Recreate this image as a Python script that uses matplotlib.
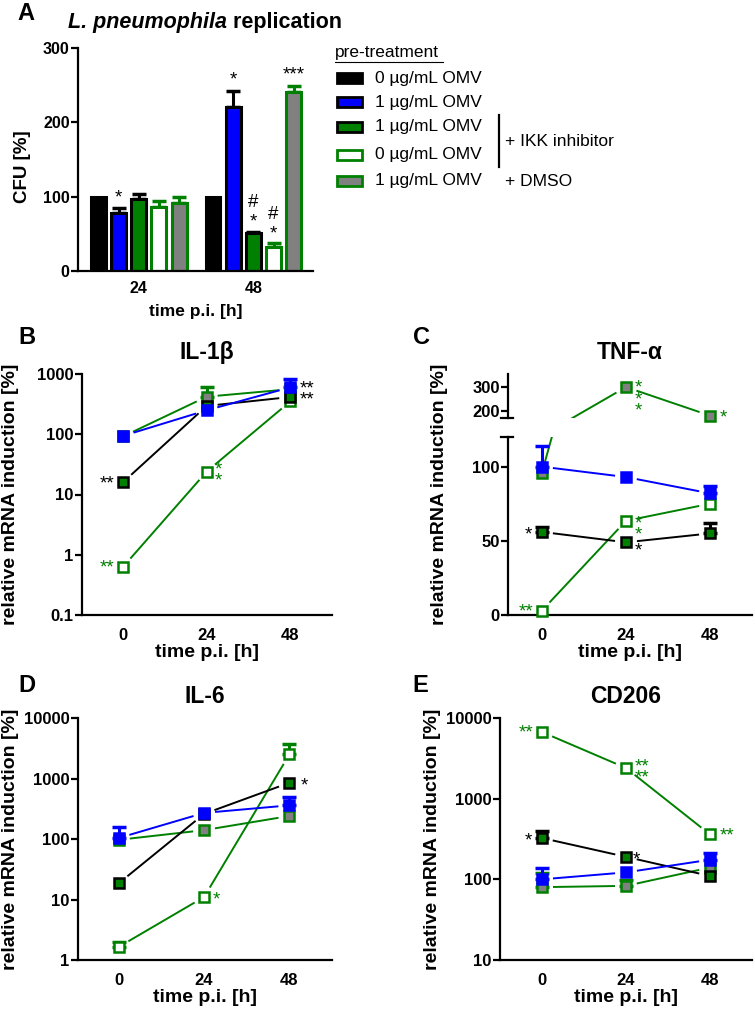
import numpy as np
import matplotlib
matplotlib.use("Agg")
import matplotlib.pyplot as plt
from matplotlib.patches import Rectangle
from matplotlib.lines import Line2D

plt.rcParams['font.family'] = ['Liberation Sans', 'DejaVu Sans']

# colours used by the figure
BLUE = '#0000ff'
GREEN = '#008000'
GRAY = '#808080'

# ---------------- data ----------------
# panel A: CFU [%] (bars), order: 0 OMV, 1 OMV, IKK+1 OMV, IKK+0 OMV, DMSO+1 OMV
groups_a = ['24', '48']
cfu_24 = [100, 78, 97, 86, 91]
cfu_24_err = [0, 7, 7, 8, 9]
cfu_48 = [100, 220, 51, 32, 241]
cfu_48_err = [0, 22, 2, 5, 8]

times = [0, 24, 48]

# panel B: IL-1b
il1b_blue = [94, 250, 600]
il1b_blue_err = [0, 0, 230]
il1b_ikk1 = [16, 295, 415]
il1b_ikk1_err = [0, 0, 0]
il1b_ikk0 = [0.63, 24, 350]
il1b_ikk0_err = [0, 0, 0]
il1b_dmso = [92, 420, 560]
il1b_dmso_err = [0, 180, 0]

# panel C: TNF-a
tnf_blue = [100, 93, 82]
tnf_blue_err = [14, 0, 5]
tnf_ikk1 = [56, 49, 55]
tnf_ikk1_err = [3, 0, 7]
tnf_ikk0 = [3, 63.5, 75]
tnf_ikk0_err = [0, 0, 0]
tnf_dmso = [96, 300, 180]
tnf_dmso_err = [0, 0, 0]

# panel D: IL-6
il6_blue = [104, 270, 360]
il6_blue_err = [56, 0, 140]
il6_ikk1 = [18.6, 260, 850]
il6_ikk1_err = [0, 0, 0]
il6_ikk0 = [1.65, 11, 2500]
il6_ikk0_err = [0.3, 0, 1200]
il6_dmso = [97, 140, 240]
il6_dmso_err = [0, 0, 0]

# panel E: CD206
cd_blue = [100, 122, 175]
cd_blue_err = [40, 0, 35]
cd_ikk1 = [325, 190, 110]
cd_ikk1_err = [75, 0, 0]
cd_ikk0 = [6700, 2400, 360]
cd_ikk0_err = [0, 0, 0]
cd_dmso = [80, 83, 140]
cd_dmso_err = [40, 15, 0]

W, H = 755, 1013
fig = plt.figure(figsize=(W / 100, H / 100), dpi=100)

TICK_FS = 12
LABEL_FS = 14
TITLE_FS = 16.5
STAR_FS = 13.5
LEG_FS = 12.5


def box(l, t, r, b):
    return [l / W, 1 - b / H, (r - l) / W, (b - t) / H]


def fx(px):
    return px / W


def fy(py):
    return 1 - py / H


def style_axes(ax, fs=TICK_FS, xpad=9):
    for s in ['top', 'right']:
        ax.spines[s].set_visible(False)
    for s in ['left', 'bottom']:
        ax.spines[s].set_linewidth(1.6)
    ax.tick_params(axis='y', width=1.6, length=5, labelsize=fs, pad=1)
    ax.tick_params(axis='x', length=0, labelsize=fs, pad=xpad)
    for lab in ax.get_xticklabels() + ax.get_yticklabels():
        lab.set_fontweight('bold')
    ax.minorticks_off()


def gap_line(ax, x, y, color, gap=11):
    # Prism-like lines that stop short of the markers
    pts = ax.transData.transform(np.column_stack([x, y]))
    inv = ax.transData.inverted()
    for i in range(len(pts) - 1):
        p0, p1 = pts[i], pts[i + 1]
        d = p1 - p0
        n = np.hypot(*d)
        if n <= 2 * gap:
            continue
        u = d / n
        a = inv.transform(p0 + u * gap)
        b = inv.transform(p1 - u * gap)
        ax.plot([a[0], b[0]], [a[1], b[1]], color=color, lw=1.4,
                zorder=2, solid_capstyle='butt')


def series(ax, y, err, face, edge, lcolor, errcolor):
    gap_line(ax, times, y, lcolor)
    lo, hi = ax.get_ylim()
    for xi, yi, ei in zip(times, y, err):
        if not (lo <= yi <= hi):
            continue  # point belongs to another segment of a broken axis
        if ei > 0:
            ax.errorbar([xi], [yi], yerr=[[0], [ei]], fmt='none', ecolor=errcolor,
                        elinewidth=2.2, capsize=5, capthick=2.5, zorder=3, clip_on=False)
        ax.plot([xi], [yi], 's', ms=7, mfc=face, mec=edge, mew=1.8, ls='none',
                zorder=4, clip_on=False)


def draw_all(ax, blue, blue_e, ikk1, ikk1_e, ikk0, ikk0_e, dmso, dmso_e):
    series(ax, dmso, dmso_e, GRAY, GREEN, GREEN, GREEN)
    series(ax, ikk0, ikk0_e, 'white', GREEN, GREEN, GREEN)
    series(ax, ikk1, ikk1_e, GREEN, 'black', 'black', 'black')
    series(ax, blue, blue_e, BLUE, BLUE, BLUE, BLUE)


def stars(ax, x, y, s, color, ha='left', dx=0, dy=0):
    ax.annotate(s, (x, y), xytext=(dx, dy), textcoords='offset points', ha=ha,
                va='center', color=color, fontsize=STAR_FS, linespacing=0.55,
                annotation_clip=False)


def finish_line_axes(ax, title, letter, lx, ly, label_x, label_y=0.5):
    ax.set_xticks(times)
    ax.set_xticklabels([str(t) for t in times])
    ax.set_xlabel('time p.i. [h]', fontsize=LABEL_FS, fontweight='bold', labelpad=1)
    ax.set_ylabel('relative mRNA induction [%]', fontsize=LABEL_FS, fontweight='bold')
    ax.yaxis.set_label_coords(label_x, label_y)
    style_axes(ax)
    if title:
        ax.set_title(title, fontsize=TITLE_FS, fontweight='bold', pad=11)
    fig.text(fx(lx), fy(ly), letter, fontsize=17, fontweight='bold', va='center', ha='center')


# ---------------- panel A ----------------
axA = fig.add_axes(box(78, 48, 313, 271))
bw = 0.13
step = 0.176
faces = ['black', BLUE, GREEN, 'white', GRAY]
edges = ['black', 'black', 'black', GREEN, GREEN]
for gi, (vals, errs) in enumerate([(cfu_24, cfu_24_err), (cfu_48, cfu_48_err)]):
    for k in range(5):
        xpos = gi + (k - 2) * step
        axA.bar(xpos, vals[k], width=bw, color=faces[k], edgecolor=edges[k],
                linewidth=2.2, zorder=2)
        if errs[k] > 0:
            axA.errorbar(xpos, vals[k], yerr=[[0], [errs[k]]], fmt='none',
                         ecolor=edges[k], elinewidth=2.2, capsize=5, capthick=2.5, zorder=1)
axA.set_xlim(-0.53, 1.52)
axA.set_ylim(0, 300)
axA.set_yticks([0, 100, 200, 300])
axA.set_xticks([0, 1])
axA.set_xticklabels(groups_a)
axA.set_ylabel('CFU [%]', fontsize=13.5, fontweight='bold')
axA.yaxis.set_label_coords(-0.2, 0.47)
axA.set_xlabel('time p.i. [h]', fontsize=12.5, fontweight='bold', labelpad=6)
style_axes(axA, fs=11.5, xpad=7)
t1 = fig.text(fx(68), fy(28), 'L. pneumophila', fontsize=15.5, fontweight='bold',
              style='italic', va='baseline', ha='left')
fig.add_artist(plt.Annotation(' replication', xy=(1, 0), xycoords=t1, va='bottom',
                              ha='left', fontsize=15.5, fontweight='bold'))
fig.text(fx(26), fy(13), 'A', fontsize=17, fontweight='bold', va='center', ha='center')

# significance marks panel A
stars(axA, 0 - step, cfu_24[1] + cfu_24_err[1], '*', 'black', ha='center', dy=7)
stars(axA, 1 - step, cfu_48[1] + cfu_48_err[1], '*', 'black', ha='center', dy=8)
stars(axA, 1 + 2 * step, cfu_48[4] + cfu_48_err[4], '***', 'black', ha='center', dy=8)
for k in (2, 3):
    stars(axA, 1 + (k - 2) * step, cfu_48[k] + cfu_48_err[k], '*', 'black', ha='center', dy=7)
    stars(axA, 1 + (k - 2) * step, cfu_48[k] + cfu_48_err[k], '#', 'black', ha='center', dy=21)

# legend panel A
legend_labels = ['0 µg/mL OMV', '1 µg/mL OMV', '1 µg/mL OMV', '0 µg/mL OMV', '1 µg/mL OMV']
legend_rows = [78, 102, 127, 155, 181]
fig.text(fx(335), fy(52), 'pre-treatment', fontsize=LEG_FS, va='center', ha='left')
fig.add_artist(Line2D([fx(335), fx(443)], [fy(62), fy(62)], color='black', lw=0.8))
for k, (lab, ry) in enumerate(zip(legend_labels, legend_rows)):
    fig.add_artist(Rectangle((fx(337), fy(ry + 5)), 25 / W, 10 / H, facecolor=faces[k],
                             edgecolor=edges[k], linewidth=2.0))
    fig.text(fx(375), fy(ry), lab, fontsize=LEG_FS, va='center', ha='left')
fig.add_artist(Line2D([fx(499), fx(499)], [fy(115), fy(167)], color='black', lw=1.6))
fig.text(fx(505), fy(141), '+ IKK inhibitor', fontsize=LEG_FS, va='center', ha='left')
fig.text(fx(505), fy(181), '+ DMSO', fontsize=LEG_FS, va='center', ha='left')

# ---------------- panel B ----------------
axB = fig.add_axes(box(82, 374, 332, 615))
axB.set_yscale('log')
axB.set_xlim(-11.8, 60)
axB.set_ylim(0.1, 1000)
axB.set_yticks([0.1, 1, 10, 100, 1000])
axB.set_yticklabels(['0.1', '1', '10', '100', '1000'])
draw_all(axB, il1b_blue, il1b_blue_err, il1b_ikk1, il1b_ikk1_err,
         il1b_ikk0, il1b_ikk0_err, il1b_dmso, il1b_dmso_err)
finish_line_axes(axB, 'IL-1β', 'B', 27, 337, -0.252)
stars(axB, 0, il1b_ikk1[0], '**', 'black', ha='right', dx=-6, dy=-1)
stars(axB, 0, il1b_ikk0[0], '**', GREEN, ha='right', dx=-6, dy=-1)
stars(axB, 24, il1b_ikk0[1], '*\n*', GREEN, dx=6, dy=-3)
stars(axB, 48, il1b_ikk1[2], '**\n**', 'black', dx=7, dy=2)

# ---------------- panel C (broken axis) ----------------
axC = fig.add_axes(box(508, 437, 752, 615))
axC2 = fig.add_axes(box(508, 374, 752, 418))
for ax in (axC, axC2):
    ax.set_xlim(-9.7, 60)
axC.set_ylim(0, 120)
axC.set_yticks([0, 50, 100])
axC2.set_ylim(170, 355)
axC2.set_yticks([200, 300])
for ax in (axC, axC2):
    draw_all(ax, tnf_blue, tnf_blue_err, tnf_ikk1, tnf_ikk1_err,
             tnf_ikk0, tnf_ikk0_err, tnf_dmso, tnf_dmso_err)
finish_line_axes(axC, '', 'C', 422, 337, -0.245, 0.68)
style_axes(axC2)
axC2.spines['bottom'].set_visible(False)
axC2.set_xticks([])
axC2.set_title('TNF-α', fontsize=TITLE_FS, fontweight='bold', pad=11)
# break marks
axC.add_artist(Line2D([-0.03, 0.02], [1, 1], transform=axC.transAxes, color='black',
                      lw=1.6, clip_on=False))
axC2.add_artist(Line2D([-0.03, 0.02], [0, 0], transform=axC2.transAxes, color='black',
                       lw=1.6, clip_on=False))
stars(axC2, 24, tnf_dmso[1], '*\n*\n*', GREEN, dx=6, dy=-9)
stars(axC2, 48, tnf_dmso[2], '*', GREEN, dx=7, dy=-2)
stars(axC, 0, tnf_ikk1[0], '*', 'black', ha='right', dx=-7, dy=-2)
stars(axC, 0, tnf_ikk0[0], '**', GREEN, ha='right', dx=-6, dy=-1)
stars(axC, 24, tnf_ikk0[1], '*\n*', GREEN, dx=6, dy=-6)
stars(axC, 24, tnf_ikk1[1], '*', 'black', dx=6, dy=-6)

# ---------------- panel D ----------------
axD = fig.add_axes(box(78, 718, 332, 960))
axD.set_yscale('log')
axD.set_xlim(-11.5, 60)
axD.set_ylim(1, 10000)
axD.set_yticks([1, 10, 100, 1000, 10000])
axD.set_yticklabels(['1', '10', '100', '1000', '10000'])
draw_all(axD, il6_blue, il6_blue_err, il6_ikk1, il6_ikk1_err,
         il6_ikk0, il6_ikk0_err, il6_dmso, il6_dmso_err)
finish_line_axes(axD, 'IL-6', 'D', 27, 685, -0.232)
stars(axD, 48, il6_ikk1[2], '*', 'black', dx=8, dy=-2)
stars(axD, 24, il6_ikk0[1], '*', GREEN, dx=6, dy=-2)

# ---------------- panel E ----------------
axE = fig.add_axes(box(500, 718, 752, 960))
axE.set_yscale('log')
axE.set_xlim(-12, 60)
axE.set_ylim(10, 10000)
axE.set_yticks([10, 100, 1000, 10000])
axE.set_yticklabels(['10', '100', '1000', '10000'])
draw_all(axE, cd_blue, cd_blue_err, cd_ikk1, cd_ikk1_err,
         cd_ikk0, cd_ikk0_err, cd_dmso, cd_dmso_err)
finish_line_axes(axE, 'CD206', 'E', 420, 685, -0.235)
stars(axE, 0, cd_ikk0[0], '**', GREEN, ha='right', dx=-6, dy=-1)
stars(axE, 24, cd_ikk0[1], '**\n**', GREEN, dx=6, dy=-3)
stars(axE, 48, cd_ikk0[2], '**', GREEN, dx=7, dy=-1)
stars(axE, 0, cd_ikk1[0], '*', 'black', ha='right', dx=-7, dy=-2)
stars(axE, 24, cd_ikk1[1], '*', 'black', dx=5, dy=-2)

fig.savefig('out.png', dpi=100)
